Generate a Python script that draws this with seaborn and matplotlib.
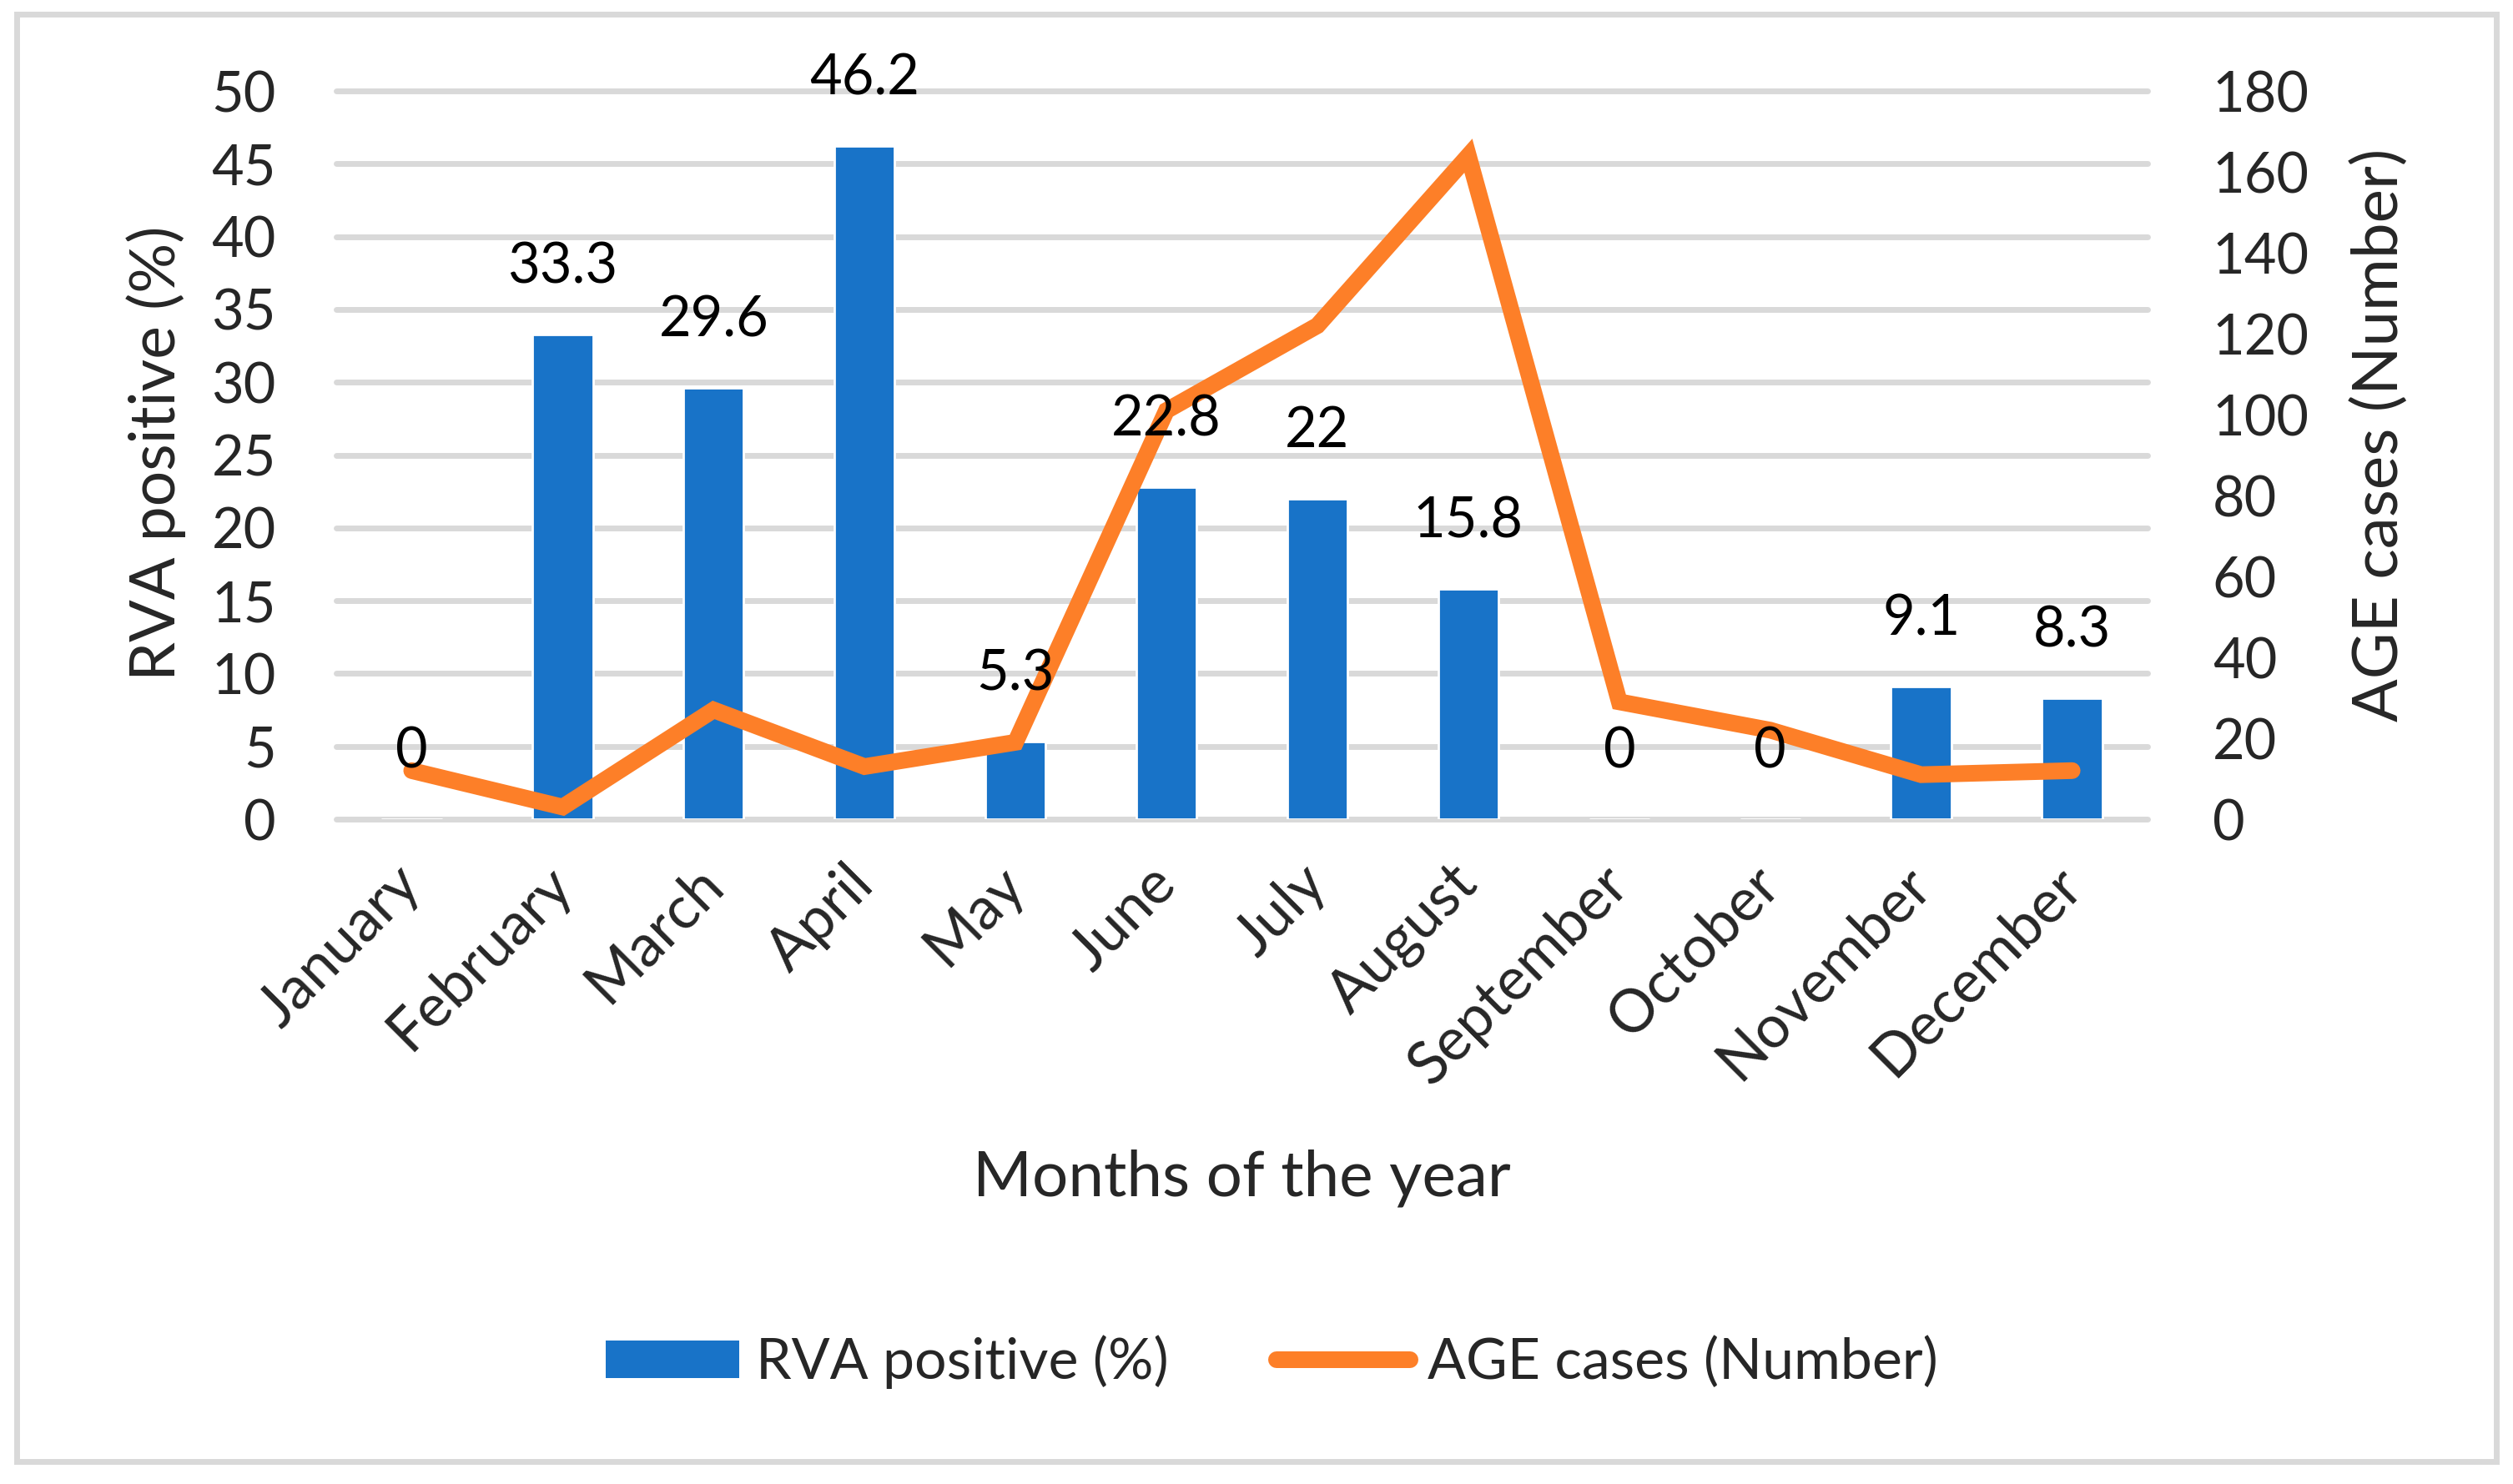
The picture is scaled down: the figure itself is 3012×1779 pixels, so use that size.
import matplotlib
matplotlib.use("Agg")
import matplotlib.pyplot as plt
import seaborn as sns
import pandas as pd
from matplotlib.patches import Rectangle, Patch
from matplotlib.lines import Line2D

# Data
months = ["January", "February", "March", "April", "May", "June",
          "July", "August", "September", "October", "November", "December"]
rva_positive = [0, 33.3, 29.6, 46.2, 5.3, 22.8, 22, 15.8, 0, 0, 9.1, 8.3]
age_cases = [12, 3, 27, 13, 19, 101, 122, 164, 29, 22, 11, 12]

BLUE = "#1873C8"
ORANGE = "#FD7F28"
GRID = "#D9D9D9"

sns.set_theme(style="white")
plt.rcParams["font.family"] = ["Lato", "DejaVu Sans"]

df = pd.DataFrame({"Month": months, "RVA": rva_positive, "AGE": age_cases})

fig = plt.figure(figsize=(15.06, 8.895), dpi=200)
ax = fig.add_axes([0.1338, 0.448, 0.7208, 0.4907])

# Bars: RVA positive (%)
sns.barplot(data=df, x="Month", y="RVA", color=BLUE, width=0.4,
            saturation=1, ax=ax)
ax.set_ylim(0, 50)
ax.set_yticks(range(0, 51, 5))
ax.yaxis.grid(True, color=GRID, linewidth=2.5)
ax.set_axisbelow(True)
for line in ax.get_ygridlines():
    line.set_clip_on(False)
for side in ["top", "right", "left", "bottom"]:
    ax.spines[side].set_visible(False)
ax.tick_params(axis="both", length=0, labelsize=24)
ax.tick_params(axis="y", pad=26)
ax.tick_params(axis="x", pad=24, labelsize=25.5)
for lbl in ax.get_xticklabels():
    lbl.set_rotation(45)
    lbl.set_ha("right")
    lbl.set_va("center")
    lbl.set_rotation_mode("anchor")

ax.set_ylabel("RVA positive (%)", fontsize=27)
ax.yaxis.set_label_coords(-0.083, 0.503)
ax.set_xlabel("Months of the year", fontsize=27.5)
ax.xaxis.set_label_coords(0.5, -0.4926)
ax.xaxis.label.set_va("center")

# Line: AGE cases (Number)
ax2 = ax.twinx()
sns.lineplot(data=df, x="Month", y="AGE", ax=ax2, color=ORANGE,
             linewidth=7.2, solid_capstyle="round", solid_joinstyle="miter",
             legend=False)
ax2.set_ylim(0, 180)
ax2.set_yticks(range(0, 181, 20))
ax2.grid(False)
for side in ["top", "right", "left", "bottom"]:
    ax2.spines[side].set_visible(False)
ax2.tick_params(axis="y", length=0, labelsize=24, pad=28)
ax2.set_ylabel("AGE cases (Number)", fontsize=27.5, rotation=90)
ax2.yaxis.set_label_coords(1.112, 0.528)

# keep category slots flush with the plot edges
ax.set_xlim(-0.5, len(months) - 0.5)

# Data labels above bars, drawn on top of the line
for i, v in enumerate(rva_positive):
    ax2.annotate(f"{v:g}", xy=(i, v), xycoords=ax.transData,
                 xytext=(0, 29), textcoords="offset points",
                 ha="center", va="center", fontsize=24, color="black")

# Legend
handles = [
    Patch(facecolor=BLUE, edgecolor="none"),
    Line2D([0], [0], color=ORANGE, linewidth=7.2, solid_capstyle="round"),
]
fig.legend(handles, ["RVA positive (%)", "AGE cases (Number)"],
           loc="center", bbox_to_anchor=(0.506, 0.082), ncol=2,
           frameon=False, fontsize=24.5, handlelength=2.35, handleheight=0.63,
           handletextpad=0.3, columnspacing=1.9)

# Outer chart border
fig.patches.append(Rectangle((20 / 3012, 1 - 1752 / 1779),
                             (2992 - 20) / 3012, (1752 - 17) / 1779,
                             transform=fig.transFigure, fill=False,
                             edgecolor=GRID, linewidth=2.5))

fig.savefig("out.png", dpi=200, facecolor="white")
